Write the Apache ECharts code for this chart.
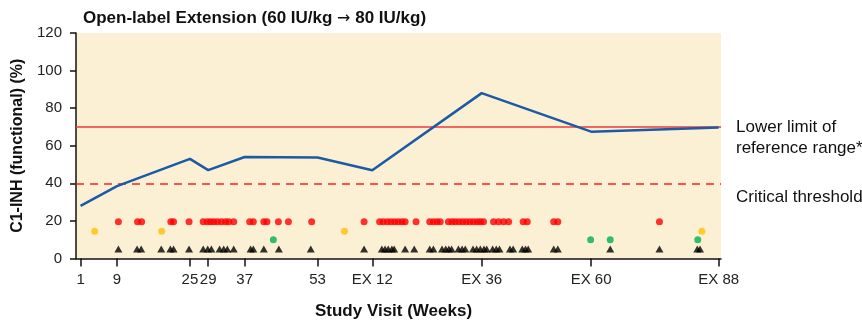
<!DOCTYPE html>
<html>
<head>
<meta charset="utf-8">
<script src="https://cdn.jsdelivr.net/npm/echarts@6/dist/echarts.min.js"></script>
<style>html,body{margin:0;padding:0;background:#fff;}#c{width:862px;height:321px;}</style>
</head>
<body>
<div id="c"></div>
<script>
// ---- data ----
const tickWeeks = [1, 9, 25, 29, 37, 53, 65, 89, 113, 141];
const tickLabels = ['1', '9', '25', '29', '37', '53', 'EX 12', 'EX 36', 'EX 60', 'EX 88'];
const visitWeeks = [1, 9, 25, 29, 37, 53, 65, 89, 113, 141];
const c1inhValues = [28, 38.5, 53, 47, 54, 53.7, 47, 88, 67.5, 69.7];
const lowerLimit = 70;
const criticalThreshold = 40;

const redY = 19.5, yellowY = 14.5, greenY = 10, triY = 5;
const redWeeks = [9.3, 13.5, 14.4, 20.8, 21.4, 24.8, 27.9, 28.8, 29.5, 30.2, 31.0, 31.9, 32.8, 33.5, 34.6,
  38.1, 38.9, 41.2, 41.9, 44.4, 46.6, 51.7, 63.2, 66.6, 67.4, 68.3, 69.1, 69.9, 70.7, 71.5, 72.2, 74.6,
  77.6, 78.4, 79.2, 79.9, 81.7, 82.5, 83.2, 84.0, 84.8, 85.6, 86.4, 87.2, 88.0, 88.7, 89.4,
  91.6, 92.7, 93.8, 94.9, 98.1, 99.0, 104.8, 105.7, 128];
const yellowWeeks = [4.1, 18.8, 58.9, 137.3];
const greenWeeks = [43.3, 112.9, 117.2, 136.4];
const triWeeks = [9.3, 13.4, 14.3, 18.7, 20.7, 21.4, 24.8, 27.9, 28.9, 29.7, 31.5, 32.4, 33.2, 34.6,
  38.3, 38.9, 41.2, 44.5, 51.5, 63.2, 67.1, 67.8, 68.5, 69.3, 69.8, 72.2, 74.2, 77.6, 78.4,
  80.3, 81.1, 81.8, 82.4, 83.9, 84.7, 85.4, 87.1, 87.9, 88.7, 89.5, 90.1, 91.4, 92.2, 92.9,
  95.2, 95.9, 97.9, 98.6, 99.2, 104.8, 105.7, 117.2, 128, 136.3, 136.9];

const FONT = "'Liberation Sans', Arial, sans-serif";
const pairs = (xs, y) => xs.map(x => [x, y]);

const chart = echarts.init(document.getElementById('c'), null, {renderer: 'canvas'});
chart.setOption({
  animation: false,
  backgroundColor: '#ffffff',
  textStyle: {fontFamily: FONT},
  title: {
    text: '{t|Open-label Extension (60 IU/kg }{a|\u2192}{t| 80 IU/kg)}',
    left: 83, top: 10, padding: 0,
    textStyle: {
      rich: {
        t: {fontFamily: FONT, fontSize: 17, fontWeight: 'bold', color: '#111'},
        a: {fontFamily: "'DejaVu Sans', sans-serif", fontSize: 16, fontWeight: 'normal', color: '#111'}
      }
    }
  },
  grid: {left: 76, right: 141, top: 33, bottom: 62.5, containLabel: false, outerBoundsMode: 'none',
         show: true, backgroundColor: '#fcf0d4', borderWidth: 0},
  xAxis: {
    type: 'value', min: 0, max: 141.5,
    name: 'Study Visit (Weeks)', nameLocation: 'middle', nameGap: 44,
    nameTextStyle: {fontFamily: FONT, fontSize: 17, fontWeight: 'bold', color: '#111', padding: [0, 10, 0, 0]},
    axisLine: {show: true, onZero: false, lineStyle: {color: '#111', width: 1.5}},
    axisTick: {show: true, length: 8, customValues: tickWeeks, lineStyle: {color: '#111', width: 1.5}},
    axisLabel: {customValues: tickWeeks, margin: 14, fontFamily: FONT, fontSize: 15, color: '#222',
      formatter: v => { const i = tickWeeks.indexOf(v); return i >= 0 ? tickLabels[i] : ''; }},
    splitLine: {show: false}
  },
  yAxis: {
    type: 'value', min: 0, max: 120, interval: 20,
    name: 'C1-INH (functional) (%)', nameLocation: 'middle', nameGap: 48,
    nameTextStyle: {fontFamily: FONT, fontSize: 16, fontWeight: 'bold', color: '#111'},
    axisLine: {show: true, lineStyle: {color: '#111', width: 1.5}},
    axisTick: {show: true, length: 6, lineStyle: {color: '#111', width: 1.5}},
    axisLabel: {margin: 14, fontFamily: FONT, fontSize: 15, color: '#222'},
    splitLine: {show: false}
  },
  series: [
    {
      type: 'line', data: visitWeeks.map((w, i) => [w, c1inhValues[i]]),
      showSymbol: false, symbol: 'none', z: 5,
      lineStyle: {color: '#1c5aa6', width: 2.5},
      markLine: {
        silent: true, symbol: 'none',
        data: [
          {yAxis: lowerLimit, lineStyle: {color: '#f03a3a', width: 1.6, type: 'solid'},
           label: {show: true, position: 'end', distance: 15, offset: [0, 11],
             formatter: 'Lower limit of\nreference range*', align: 'left',
             fontFamily: FONT, fontSize: 17, color: '#111', lineHeight: 21}},
          {yAxis: criticalThreshold, lineStyle: {color: '#ff2020', width: 1.6, type: [8, 6]},
           label: {show: true, position: 'end', distance: 15, offset: [0, 14],
             formatter: 'Critical threshold', align: 'left',
             fontFamily: FONT, fontSize: 17, color: '#111'}}
        ]
      }
    },
    {type: 'scatter', data: pairs(redWeeks, redY), symbol: 'circle', symbolSize: 7,
     itemStyle: {color: '#ff0000'}, z: 6},
    {type: 'scatter', data: pairs(yellowWeeks, yellowY), symbol: 'circle', symbolSize: 7,
     itemStyle: {color: '#ffc000'}, z: 6},
    {type: 'scatter', data: pairs(greenWeeks, greenY), symbol: 'circle', symbolSize: 7,
     itemStyle: {color: '#00b050'}, z: 6},
    {type: 'scatter', data: pairs(triWeeks, triY), symbol: 'triangle', symbolSize: [8, 7],
     itemStyle: {color: '#000000'}, z: 6}
  ]
});
</script>
</body>
</html>
